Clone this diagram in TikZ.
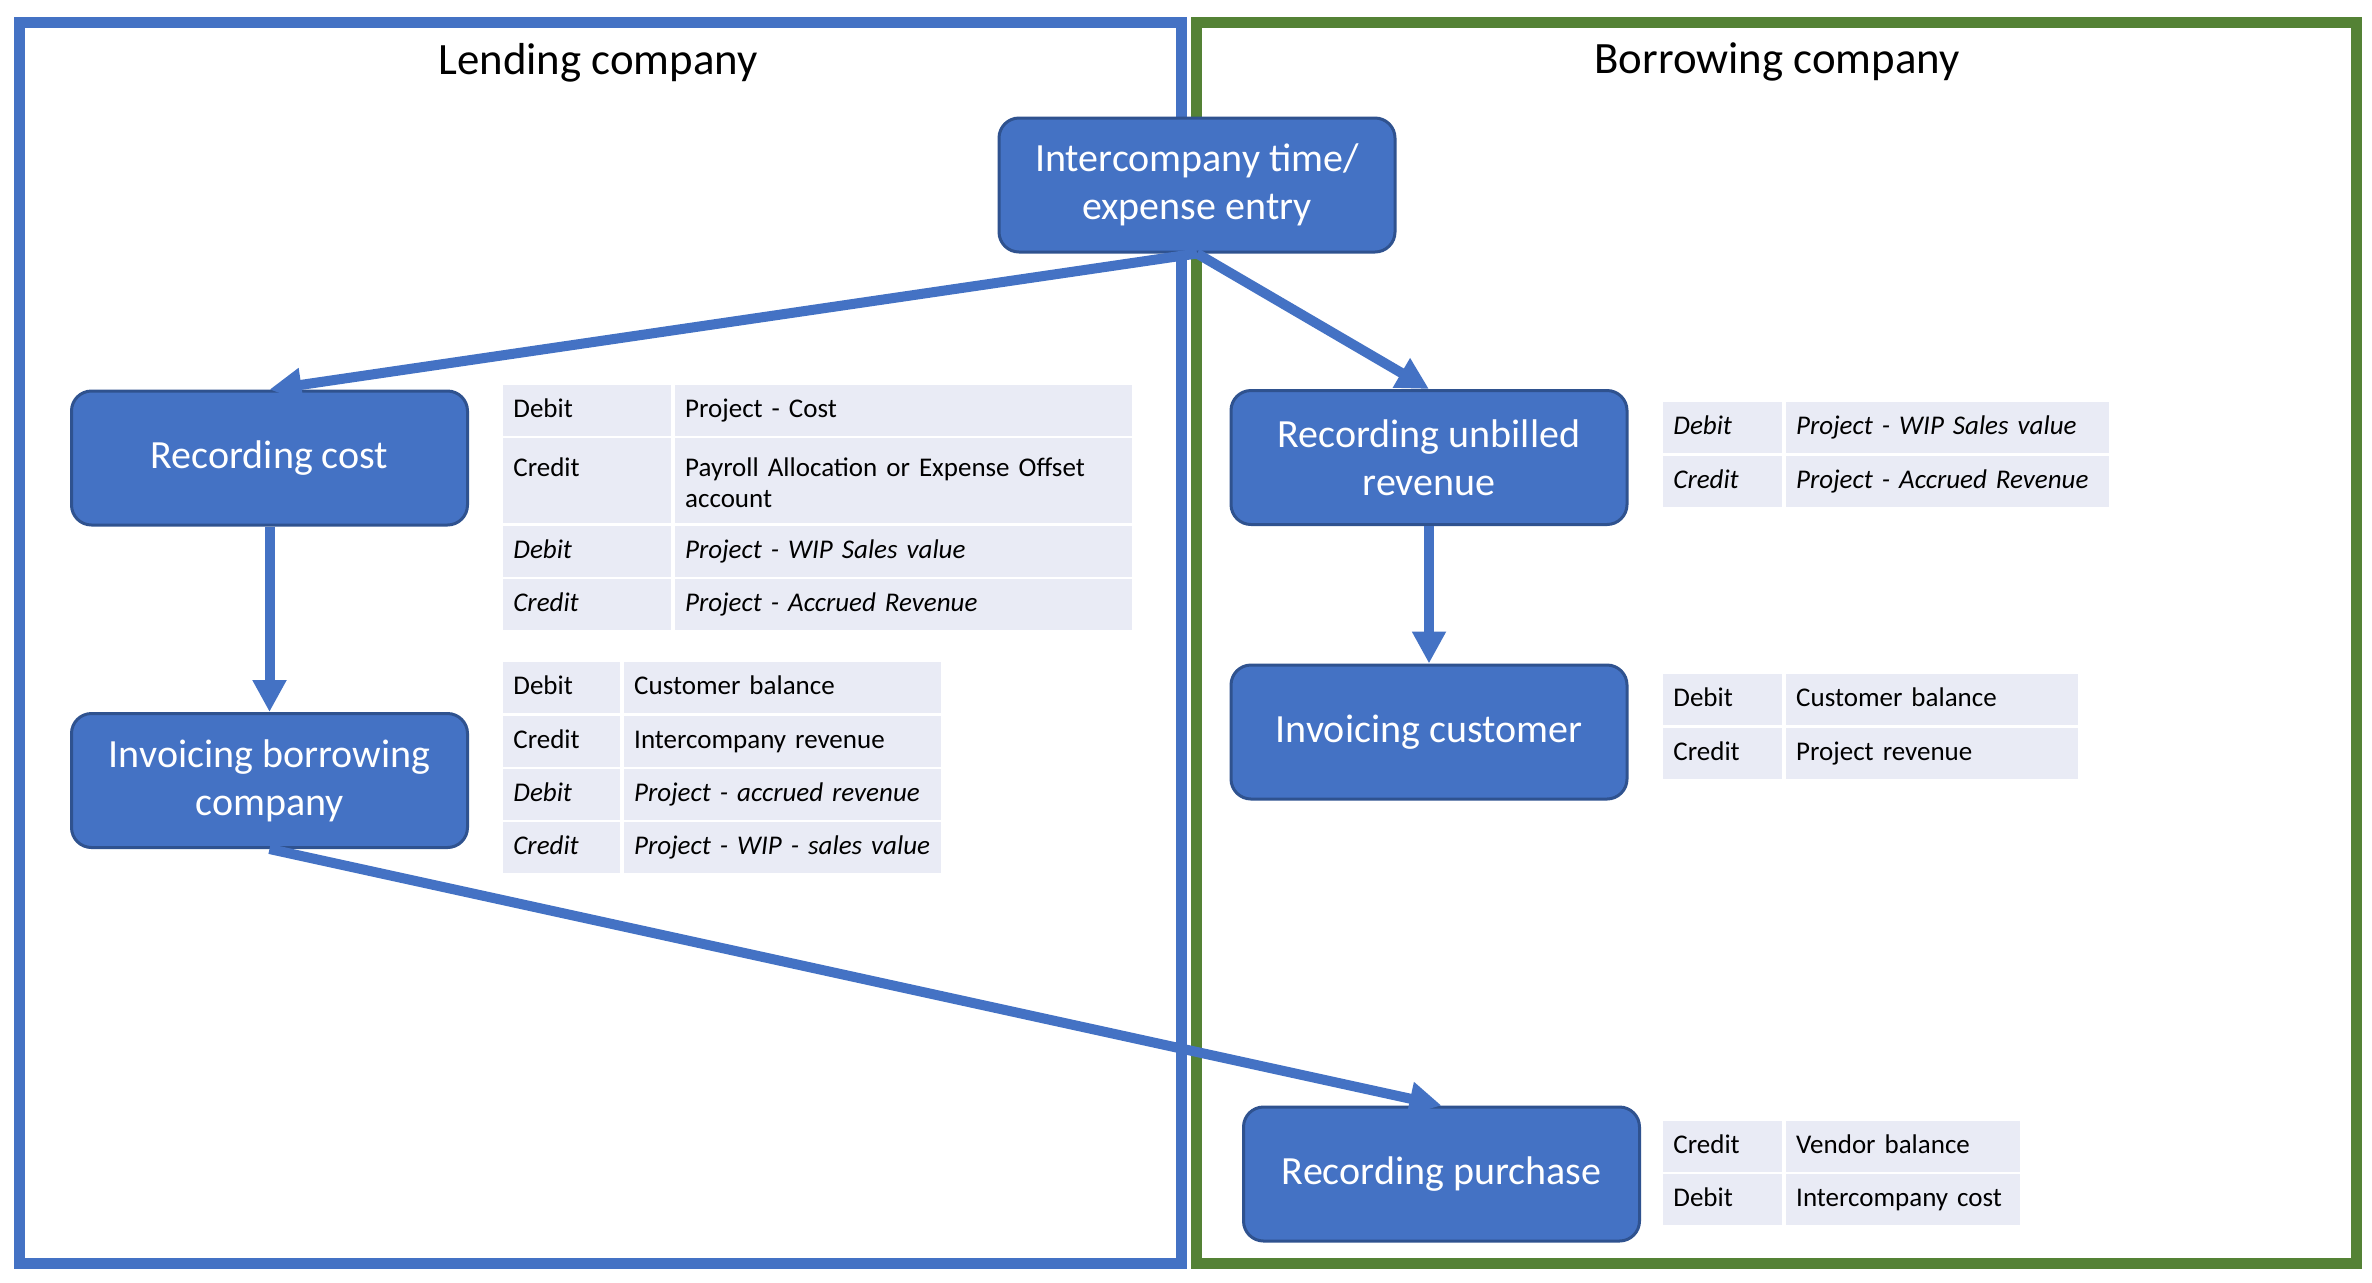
\documentclass[tikz,border=0pt]{standalone}
\usepackage{fontspec}
\setmainfont{Carlito}
\usepackage{xcolor}
\usetikzlibrary{arrows.meta, positioning}

\definecolor{officeblue}{HTML}{4472C4}
\definecolor{boxborder}{HTML}{2F528F}
\definecolor{officegreen}{HTML}{548235}
\definecolor{cellfill}{HTML}{E9EBF5}

\tikzset{
    procbox/.style={rectangle, rounded corners=10pt, fill=officeblue, draw=boxborder,
        line width=1.5pt, text=white, align=center, minimum width=198pt,
        minimum height=67pt, font=\fontsize{20}{24}\selectfont},
    cell/.style={fill=cellfill, anchor=north west, inner xsep=5pt, inner ysep=0pt,
        align=left, font=\fontsize{13.5}{15.5}\selectfont,
        execute at begin node=\strut},
    flow/.style={officeblue, line width=5pt, -{Triangle[length=16pt, width=16pt]}},
    frametitle/.style={font=\fontsize{22.4}{26}\selectfont}
}

% one ledger line: name, x, y, height, width 1, width 2, account side, account
\newcommand{\ledgerrow}[8]{%
    \node[cell, text width=#5, minimum height=#4] (#1a) at (#2,#3) {#7};
    \node[cell, text width=#6, minimum height=#4, right=1.5pt of #1a] (#1b) {#8};
}

\begin{document}
\begin{tikzpicture}[x=0.5pt, y=-0.5pt]
    \useasboundingbox (0,0) rectangle (2372,1282);
    \fill[white] (0,0) rectangle (2372,1282);

    % Company frames
    \draw[officeblue, line width=5.5pt] (19.5,22.5) rectangle (1181.5,1263);
    \draw[officegreen, line width=5.5pt] (1196.5,22.5) rectangle (2356.5,1263);
    \node[frametitle] (lendtitle) at (598,63) {Lending company};
    \node[frametitle] (borrowtitle) at (1777,62) {Borrowing company};

    % Process steps
    \node[procbox] (entry) at (1197,185) {Intercompany time/\\expense entry};
    \node[procbox] (cost) at (269.5,458) {Recording cost};
    \node[procbox] (invborrow) at (269.5,780.5) {Invoicing borrowing\\company};
    \node[procbox] (unbilled) at (1429,457.5) {Recording unbilled\\revenue};
    \node[procbox] (invcust) at (1429,732) {Invoicing customer};
    \node[procbox] (purchase) at (1441.5,1174) {Recording purchase};

    % Postings, lending company
    \ledgerrow{costA}{503}{385}{25.5pt}{74pt}{218.5pt}{Debit}{Project - Cost}
    \ledgerrow{costB}{503}{438}{42.5pt}{74pt}{218.5pt}{Credit\\~}{Payroll Allocation or Expense Offset\\account}
    \ledgerrow{costC}{503}{526}{25.5pt}{74pt}{218.5pt}{\itshape Debit}{\itshape Project - WIP Sales value}
    \ledgerrow{costD}{503}{579}{25.5pt}{74pt}{218.5pt}{\itshape Credit}{\itshape Project - Accrued Revenue}

    \ledgerrow{invA}{503}{662}{25.5pt}{48.5pt}{148.5pt}{Debit}{Customer balance}
    \ledgerrow{invB}{503}{716}{25.5pt}{48.5pt}{148.5pt}{Credit}{Intercompany revenue}
    \ledgerrow{invC}{503}{769}{25.5pt}{48.5pt}{148.5pt}{\itshape Debit}{\itshape Project - accrued revenue}
    \ledgerrow{invD}{503}{822}{25.5pt}{48.5pt}{148.5pt}{\itshape Credit}{\itshape Project - WIP - sales value}

    % Postings, borrowing company
    \ledgerrow{unbA}{1663}{402}{25.5pt}{49.5pt}{151.5pt}{\itshape Debit}{\itshape Project - WIP Sales value}
    \ledgerrow{unbB}{1663}{456}{25.5pt}{49.5pt}{151.5pt}{\itshape Credit}{\itshape Project - Accrued Revenue}

    \ledgerrow{custA}{1663}{674}{25.5pt}{49.5pt}{136pt}{Debit}{Customer balance}
    \ledgerrow{custB}{1663}{728}{25.5pt}{49.5pt}{136pt}{Credit}{Project revenue}

    \ledgerrow{purA}{1663}{1121}{25.5pt}{49.5pt}{107pt}{Credit}{Vendor balance}
    \ledgerrow{purB}{1663}{1174}{25.5pt}{49.5pt}{107pt}{Debit}{Intercompany cost}

    % Flow arrows
    \draw[flow] (entry.south) -- (cost.north);
    \draw[flow] (entry.south) -- (unbilled.north);
    \draw[flow] (cost.south) -- (invborrow.north);
    \draw[flow] (unbilled.south) -- (invcust.north);
    \draw[flow] (invborrow.south) -- (purchase.north);
\end{tikzpicture}
\end{document}
